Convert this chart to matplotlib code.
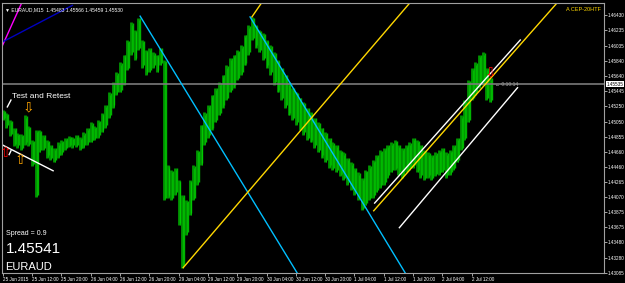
import numpy as np
import matplotlib.pyplot as plt

# EURAUD M15, one high/low pair every 4 bars
bar_step = 4
highs = [1.4520, 1.4516, 1.4507, 1.4497, 1.4490, 1.4489, 1.4513, 1.4499, 1.4481, 1.4494,
         1.4494, 1.4488, 1.4481, 1.4475, 1.4471, 1.4478, 1.4481, 1.4484, 1.4486, 1.4485,
         1.4488, 1.4485, 1.4491, 1.4497, 1.4504, 1.4499, 1.4507, 1.4516, 1.4527, 1.4543,
         1.4556, 1.4569, 1.4582, 1.4592, 1.4611, 1.4634, 1.4624, 1.4640, 1.4611, 1.4598,
         1.4601, 1.4595, 1.4592, 1.4601, 1.4585, 1.4448, 1.4442, 1.4445, 1.4429, 1.4410,
         1.4403, 1.4429, 1.4448, 1.4468, 1.4501, 1.4517, 1.4527, 1.4540, 1.4549, 1.4556,
         1.4566, 1.4578, 1.4588, 1.4592, 1.4598, 1.4604, 1.4618, 1.4630, 1.4641, 1.4630,
         1.4624, 1.4620, 1.4611, 1.4604, 1.4595, 1.4585, 1.4575, 1.4566, 1.4556, 1.4549,
         1.4543, 1.4536, 1.4530, 1.4523, 1.4517, 1.4510, 1.4504, 1.4497, 1.4491, 1.4484,
         1.4478, 1.4475, 1.4468, 1.4465, 1.4458, 1.4452, 1.4445, 1.4439, 1.4432, 1.4442,
         1.4448, 1.4455, 1.4462, 1.4468, 1.4471, 1.4475, 1.4478, 1.4481, 1.4475, 1.4471,
         1.4475, 1.4478, 1.4484, 1.4481, 1.4475, 1.4468, 1.4465, 1.4462, 1.4465, 1.4468,
         1.4471, 1.4465, 1.4468, 1.4475, 1.4484, 1.4513, 1.4533, 1.4559, 1.4575, 1.4582,
         1.4592, 1.4595, 1.4575, 1.4562]
lows = [1.4507, 1.4497, 1.4486, 1.4473, 1.4471, 1.4468, 1.4475, 1.4473, 1.4447, 1.4407,
        1.4465, 1.4468, 1.4458, 1.4455, 1.4452, 1.4458, 1.4462, 1.4468, 1.4472, 1.4471,
        1.4472, 1.4468, 1.4471, 1.4475, 1.4478, 1.4481, 1.4484, 1.4491, 1.4497, 1.4510,
        1.4523, 1.4540, 1.4543, 1.4553, 1.4572, 1.4592, 1.4585, 1.4598, 1.4575, 1.4566,
        1.4569, 1.4575, 1.4569, 1.4578, 1.4403, 1.4406, 1.4403, 1.4410, 1.4370, 1.4315,
        1.4358, 1.4383, 1.4403, 1.4423, 1.4448, 1.4475, 1.4484, 1.4494, 1.4504, 1.4513,
        1.4523, 1.4533, 1.4543, 1.4549, 1.4559, 1.4566, 1.4578, 1.4592, 1.4611, 1.4601,
        1.4595, 1.4585, 1.4575, 1.4566, 1.4553, 1.4543, 1.4533, 1.4523, 1.4513, 1.4507,
        1.4501, 1.4494, 1.4488, 1.4481, 1.4478, 1.4471, 1.4465, 1.4458, 1.4452, 1.4445,
        1.4442, 1.4439, 1.4434, 1.4429, 1.4423, 1.4416, 1.4410, 1.4403, 1.4390, 1.4396,
        1.4403, 1.4406, 1.4413, 1.4419, 1.4423, 1.4432, 1.4439, 1.4442, 1.4436, 1.4432,
        1.4439, 1.4442, 1.4445, 1.4439, 1.4432, 1.4429, 1.4432, 1.4429, 1.4434, 1.4436,
        1.4439, 1.4432, 1.4436, 1.4442, 1.4452, 1.4468, 1.4481, 1.4504, 1.4533, 1.4540,
        1.4549, 1.4553, 1.4533, 1.4530]

price_ticks = [1.46430, 1.46235, 1.46035, 1.45840, 1.45640, 1.45445, 1.45250, 1.45050,
               1.44855, 1.44660, 1.44460, 1.44265, 1.44070, 1.43875, 1.43675, 1.43480,
               1.43280, 1.43085]
time_labels = ["25 Jun 2015", "25 Jun 12:00", "25 Jun 20:00", "26 Jun 04:00", "26 Jun 12:00",
               "26 Jun 20:00", "29 Jun 04:00", "29 Jun 12:00", "29 Jun 20:00", "30 Jun 04:00",
               "30 Jun 12:00", "30 Jun 20:00", "1 Jul 04:00", "1 Jul 12:00", "1 Jul 20:00",
               "2 Jul 04:00", "2 Jul 12:00"]
bars_per_label = 32
current_price = 1.45535

# trend line objects: ((bar, price), (bar, price))
cyan_lines = [((150, 1.4642), (322, 1.4307)), ((270, 1.4641), (440, 1.4307))]
yellow_lines = [((197, 1.4315), (445, 1.4660)), ((405, 1.4389), (605, 1.4659)),
                ((272, 1.4641), (283, 1.4660))]
white_lines = [((406, 1.4399), (565, 1.4611)), ((433, 1.4367), (562, 1.4549)),
               ((-1, 1.4475), (55, 1.4441)), ((5, 1.4524), (9, 1.4533)), ((7, 1.4462), (9, 1.4467))]
magenta_line = ((-1, 1.4602), (21, 1.4660))
navy_line = ((-1, 1.4608), (76, 1.4656))

# arrows: (bar, price, symbol, colour)
arrows = [(28, 1.4523, "\u21e9", "#ffa500"), (19, 1.4455, "\u21e7", "#ffa500"),
          (3, 1.4464, "\u21e7", "#ff0000"), (532, 1.4569, "\u21e9", "#ff0000")]

FONT = ["Liberation Sans", "DejaVu Sans"]

fig = plt.figure(figsize=(6.25, 2.83), dpi=100, facecolor="black")
ax = fig.add_axes([2 / 625, 10 / 283, 602 / 625, 270 / 283], facecolor="black")

x = np.arange(len(highs)) * bar_step
ax.vlines(x, lows, highs, color="#009600", lw=2.0)
ax.vlines(x + 2, np.array(lows) + 0.0003, np.array(highs) - 0.0001, color="#00b400", lw=1.0)
ax.vlines(x + 1, np.array(lows) + 0.0001, np.array(highs) - 0.0003, color="#00dc00", lw=0.4)

ax.axhline(current_price, color="#7a7a7a", lw=1.2)

for (x0, y0), (x1, y1) in cyan_lines:
    ax.plot([x0, x1], [y0, y1], color="#00bfff", lw=1)
for (x0, y0), (x1, y1) in yellow_lines:
    ax.plot([x0, x1], [y0, y1], color="#ffd700", lw=1)
for (x0, y0), (x1, y1) in white_lines:
    ax.plot([x0, x1], [y0, y1], color="white", lw=1)
ax.plot(*zip(*magenta_line), color="#ff00ff", lw=1)
ax.plot(*zip(*navy_line), color="#0000c0", lw=1)

for bx, py, sym, col in arrows:
    ax.text(bx, py, sym, color=col, fontsize=10, ha="center", va="center", family=["DejaVu Sans"])

ax.set_xlim(-0.8, 656.4)
ax.set_ylim(1.43081, 1.46591)

ax.yaxis.tick_right()
ax.set_yticks(price_ticks)
ax.set_yticklabels([f"{p:.5f}" for p in price_ticks], family=FONT, fontsize=3.3, color="white")
ax.set_xticks(np.arange(len(time_labels)) * bars_per_label)
ax.set_xticklabels(time_labels, family=FONT, fontsize=3.3, color="white", ha="left")
ax.tick_params(axis="both", colors="#c0c0c0", length=2, width=0.6, pad=1)
ax.tick_params(axis="y", labelcolor="white")
ax.tick_params(axis="x", labelcolor="white")
for s in ax.spines.values():
    s.set_color("#a0a0a0")
    s.set_linewidth(0.8)

ax.text(1.004, current_price, f"{current_price:.5f}", transform=ax.get_yaxis_transform(),
        fontsize=3.3, family=FONT, color="black", va="center", ha="left",
        bbox=dict(boxstyle="square,pad=0.15", fc="white", ec="none"))

ax.text(0.005, 0.985, "\u25bc EURAUD,M15  1.45483 1.45566 1.45459 1.45530", transform=ax.transAxes,
        fontsize=3.6, family=FONT, color="white", va="top", ha="left")
ax.text(0.995, 0.985, "A CEP-20HTF", transform=ax.transAxes, fontsize=4, family=FONT,
        color="#ffd700", va="top", ha="right")
ax.text(0.016, 0.655, "Test and Retest", transform=ax.transAxes, fontsize=6, family=FONT,
        color="white", va="center", ha="left")
ax.text(0.006, 0.145, "Spread = 0.9", transform=ax.transAxes, fontsize=5, family=FONT,
        color="white", va="center", ha="left")
ax.text(0.006, 0.09, "1.45541", transform=ax.transAxes, fontsize=11, family=FONT,
        color="white", va="center", ha="left")
ax.text(0.006, 0.022, "EURAUD", transform=ax.transAxes, fontsize=8, family=FONT,
        color="white", va="center", ha="left")
ax.text(537, current_price, "\u2190 0:10:14", fontsize=3.6, family=FONT, color="#a0a0a0",
        va="center", ha="left")

fig.savefig("out.png", dpi=100, facecolor="black")
